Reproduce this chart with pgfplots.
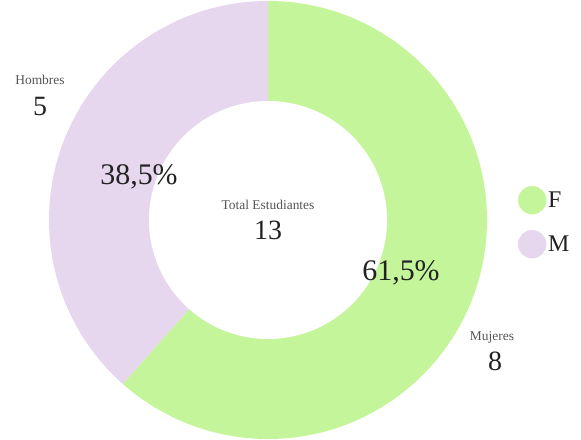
\documentclass[border=0pt]{standalone}
\usepackage{fontspec}
\setmainfont{Liberation Serif}
\usepackage{pgfplots}
\usepackage{pgfplotstable}
\pgfplotsset{compat=1.18}
\definecolor{cF}{HTML}{C4F59B}
\definecolor{cM}{HTML}{E6D7EF}
\definecolor{txt}{HTML}{222222}
\definecolor{sub}{HTML}{555555}
\pgfplotstableread{
label value
F 8
M 5
}\datatable
\begin{document}
\begin{tikzpicture}
\pgfplotstablegetelem{0}{value}\of\datatable \let\vF\pgfplotsretval
\pgfplotstablegetelem{1}{value}\of\datatable \let\vM\pgfplotsretval
\pgfmathsetmacro{\tot}{\vF+\vM}
\pgfmathsetmacro{\aF}{90-360*\vF/\tot}
\begin{axis}[width=581bp,height=440bp,scale only axis,
  xmin=0,xmax=581,ymin=0,ymax=440,hide axis,clip=false,
  legend style={draw=none,fill=none,at={(axis cs:515,256)},anchor=north west,
    font=\fontsize{24}{24}\selectfont,text=txt,row sep=16bp,
    /tikz/every even column/.append style={column sep=8bp}},
  legend cell align=left]
\addlegendimage{only marks,mark=*,mark size=14bp,color=cF,mark options={draw=cF,fill=cF}}
\addlegendentry{F}
\addlegendimage{only marks,mark=*,mark size=14bp,color=cM,mark options={draw=cM,fill=cM}}
\addlegendentry{M}
\fill[cF] (axis cs:268,220) -- ++(90:219bp) arc[start angle=90,end angle=\aF,radius=219bp] -- cycle;
\fill[cM] (axis cs:268,220) -- ++(\aF:219bp) arc[start angle=\aF,end angle=-270,radius=219bp] -- cycle;
\fill[white] (axis cs:268,220) circle[radius=119bp];
\node[text=sub,font=\fontsize{13.5}{13.5}\selectfont] at (axis cs:40,360) {Hombres};
\node[text=txt,font=\fontsize{28}{28}\selectfont] at (axis cs:40,333) {\vM};
\node[text=txt,font=\fontsize{30}{30}\selectfont] at (axis cs:139,263) {38,5\%};
\node[text=sub,font=\fontsize{13.5}{13.5}\selectfont] at (axis cs:268,235) {Total Estudiantes};
\node[text=txt,font=\fontsize{28}{28}\selectfont] at (axis cs:268,210) {13};
\node[text=txt,font=\fontsize{30}{30}\selectfont] at (axis cs:401,167) {61,5\%};
\node[text=sub,font=\fontsize{13.5}{13.5}\selectfont] at (axis cs:492,103) {Mujeres};
\node[text=txt,font=\fontsize{28}{28}\selectfont] at (axis cs:495,79) {\vF};
\end{axis}
\pgfresetboundingbox
\path (current axis.south west) rectangle (current axis.north east);
\end{tikzpicture}
\end{document}
